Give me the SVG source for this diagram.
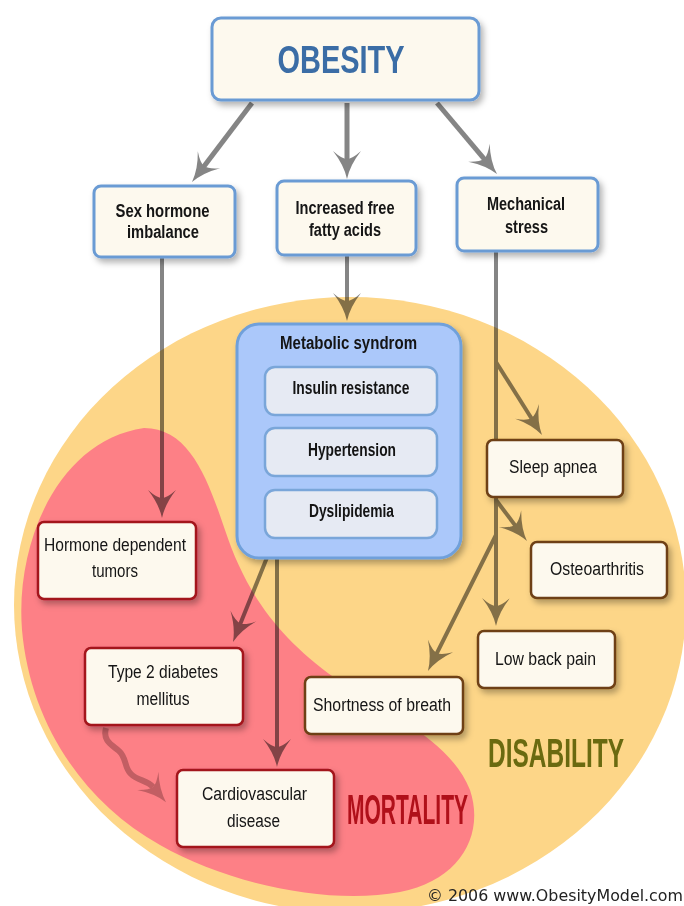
<svg xmlns="http://www.w3.org/2000/svg" width="684" height="906" viewBox="0 0 684 906">
<defs>
<style>
.t{font-family:"Liberation Sans",Arial,sans-serif;font-size:18px;fill:#141414;text-anchor:middle}
.b{font-weight:bold}
.box{fill:#fdf9ee;stroke:#6b9bd4;stroke-width:3}
.rbox{fill:#fdf9ee;stroke:#a3141a;stroke-width:2.5}
.bbox{fill:#fdf9ee;stroke:#6e3f14;stroke-width:2.5}
.ibox{fill:#e6eaf3;stroke:#7aa6d9;stroke-width:2.5}
.ln{fill:none;stroke:#858585;stroke-width:4}
.lt{stroke-width:5}
</style>
<filter id="sh" x="-20%" y="-20%" width="150%" height="150%">
<feDropShadow dx="3" dy="4" stdDeviation="3" flood-color="#000" flood-opacity="0.3"/>
</filter>
<marker id="ah" markerUnits="userSpaceOnUse" markerWidth="32" markerHeight="30" viewBox="0 0 32 30" refX="12" refY="15" orient="auto">
<path d="M30,15 Q16,12 2,1 Q10,10 10,15 Q10,20 2,29 Q16,18 30,15 Z" fill="#858585"/>
</marker>
<marker id="aw" markerUnits="userSpaceOnUse" markerWidth="32" markerHeight="30" viewBox="0 0 32 30" refX="10" refY="15" orient="auto">
<path d="M30,15 Q16,12 2,1 Q10,10 10,15 Q10,20 2,29 Q16,18 30,15 Z" fill="#c4bcbc"/>
</marker>
</defs>
<rect width="684" height="906" fill="#ffffff"/>
<g id="regions">
<ellipse id="disability-region" cx="350" cy="605" rx="336" ry="308" fill="#fdd688"/>
<path id="mortality-region" d="M144 428 C190 428 208 480 225 530 C245 590 275 635 335 678 C390 715 450 740 470 790 C485 835 460 880 400 892 C330 905 230 885 160 845 C80 800 30 720 22 630 C15 540 60 440 144 428 Z" fill="#fd8086"/>
</g>
<g id="connectors" style="mix-blend-mode:multiply">
<line class="ln lt" x1="252" y1="103" x2="202.9" y2="167.7" marker-end="url(#ah)"/>
<line class="ln lt" x1="347" y1="103" x2="347" y2="161" marker-end="url(#ah)"/>
<line class="ln lt" x1="437" y1="103" x2="485.4" y2="160.3" marker-end="url(#ah)"/>
<line class="ln" x1="162" y1="257" x2="162" y2="500" marker-end="url(#ah)"/>
<line class="ln" x1="347" y1="256" x2="347" y2="303" marker-end="url(#ah)"/>
<line class="ln" x1="496" y1="252" x2="496" y2="608" marker-end="url(#ah)"/>
<line class="ln" x1="496" y1="362" x2="532.4" y2="419.8" marker-end="url(#ah)"/>
<line class="ln" x1="496" y1="500" x2="516.1" y2="526.6" marker-end="url(#ah)"/>
<line class="ln" x1="496" y1="535" x2="436" y2="654.9" marker-end="url(#ah)"/>
<line class="ln" x1="268" y1="555" x2="239.7" y2="625.3" marker-end="url(#ah)"/>
<line class="ln" x1="277" y1="555" x2="277" y2="749" marker-end="url(#ah)"/>
<path class="ln" style="stroke:#c4bcbc;stroke-width:6" d="M106 728 C102 742 114 746 119 751 C127 758 124 768 131 774 C138 781 147 780 153 787" marker-end="url(#aw)"/>
</g>
<g id="obesity" filter="url(#sh)"><rect class="box" x="212" y="18" width="267" height="82" rx="9"/><text class="t b" x="341" y="73" style="font-size:39px;fill:#3a6da6" textLength="127" lengthAdjust="spacingAndGlyphs">OBESITY</text></g>
<g id="sex-hormone" filter="url(#sh)"><rect class="box" x="94" y="186" width="141" height="71" rx="7"/><text class="t b" x="162.5" y="216.5" textLength="94" lengthAdjust="spacingAndGlyphs">Sex hormone</text><text class="t b" x="163" y="237.5" textLength="72" lengthAdjust="spacingAndGlyphs">imbalance</text></g>
<g id="fatty-acids" filter="url(#sh)"><rect class="box" x="277" y="181" width="139" height="74" rx="7"/><text class="t b" x="345" y="214" textLength="99" lengthAdjust="spacingAndGlyphs">Increased free</text><text class="t b" x="345" y="236" textLength="72" lengthAdjust="spacingAndGlyphs">fatty acids</text></g>
<g id="mechanical" filter="url(#sh)"><rect class="box" x="457" y="178" width="141" height="73" rx="7"/><text class="t b" x="526" y="210" textLength="78" lengthAdjust="spacingAndGlyphs">Mechanical</text><text class="t b" x="526.5" y="232.5" textLength="43" lengthAdjust="spacingAndGlyphs">stress</text></g>
<g id="metabolic"><rect x="237" y="324" width="224" height="234" rx="22" fill="#abc8fa" stroke="#6fa0da" stroke-width="3" filter="url(#sh)"/><text class="t b" x="348.5" y="349" textLength="137" lengthAdjust="spacingAndGlyphs">Metabolic syndrom</text>
<g id="insulin"><rect class="ibox" x="265" y="367" width="172" height="48" rx="10"/><text class="t b" x="351" y="394" textLength="117" lengthAdjust="spacingAndGlyphs">Insulin resistance</text></g>
<g id="hypertension"><rect class="ibox" x="265" y="428" width="172" height="48" rx="10"/><text class="t b" x="352" y="455.5" textLength="88" lengthAdjust="spacingAndGlyphs">Hypertension</text></g>
<g id="dyslipidemia"><rect class="ibox" x="265" y="490" width="172" height="48" rx="10"/><text class="t b" x="351.5" y="516.5" textLength="85" lengthAdjust="spacingAndGlyphs">Dyslipidemia</text></g>
</g>
<g id="tumors" filter="url(#sh)"><rect class="rbox" x="38" y="522" width="158" height="77" rx="6"/><text class="t" x="115" y="551" textLength="142" lengthAdjust="spacingAndGlyphs">Hormone dependent</text><text class="t" x="115" y="577" textLength="46" lengthAdjust="spacingAndGlyphs">tumors</text></g>
<g id="diabetes" filter="url(#sh)"><rect class="rbox" x="85" y="648" width="158" height="77" rx="6"/><text class="t" x="163" y="678" textLength="110" lengthAdjust="spacingAndGlyphs">Type 2 diabetes</text><text class="t" x="163" y="705" textLength="53" lengthAdjust="spacingAndGlyphs">mellitus</text></g>
<g id="cardio" filter="url(#sh)"><rect class="rbox" x="177" y="770" width="157" height="77" rx="6"/><text class="t" x="254.5" y="800" textLength="105" lengthAdjust="spacingAndGlyphs">Cardiovascular</text><text class="t" x="253.5" y="826.5" textLength="53" lengthAdjust="spacingAndGlyphs">disease</text></g>
<g id="shortness" filter="url(#sh)"><rect class="bbox" x="305" y="677" width="158" height="57" rx="6"/><text class="t" x="382" y="710.5" textLength="138" lengthAdjust="spacingAndGlyphs">Shortness of breath</text></g>
<g id="sleep-apnea" filter="url(#sh)"><rect class="bbox" x="487" y="440" width="136" height="57" rx="6"/><text class="t" x="553" y="473" textLength="88" lengthAdjust="spacingAndGlyphs">Sleep apnea</text></g>
<g id="osteoarthritis" filter="url(#sh)"><rect class="bbox" x="531" y="542" width="136" height="56" rx="6"/><text class="t" x="597" y="575" textLength="94" lengthAdjust="spacingAndGlyphs">Osteoarthritis</text></g>
<g id="low-back-pain" filter="url(#sh)"><rect class="bbox" x="478" y="631" width="137" height="57" rx="6"/><text class="t" x="545.5" y="665" textLength="101" lengthAdjust="spacingAndGlyphs">Low back pain</text></g>
<g id="labels">
<text class="t b" x="407.5" y="824" style="font-size:42px;fill:#b0101a" textLength="121" lengthAdjust="spacingAndGlyphs">MORTALITY</text>
<text class="t b" transform="translate(556 767) scale(0.597 1)" x="0" y="0" style="font-size:41px;fill:#6a6a10">DISABILITY</text>
<text x="427" y="900.5" style="font-family:'DejaVu Sans',Verdana,sans-serif;font-size:15px;fill:#222" textLength="256" lengthAdjust="spacingAndGlyphs">© 2006 www.ObesityModel.com</text>
</g>
</svg>
